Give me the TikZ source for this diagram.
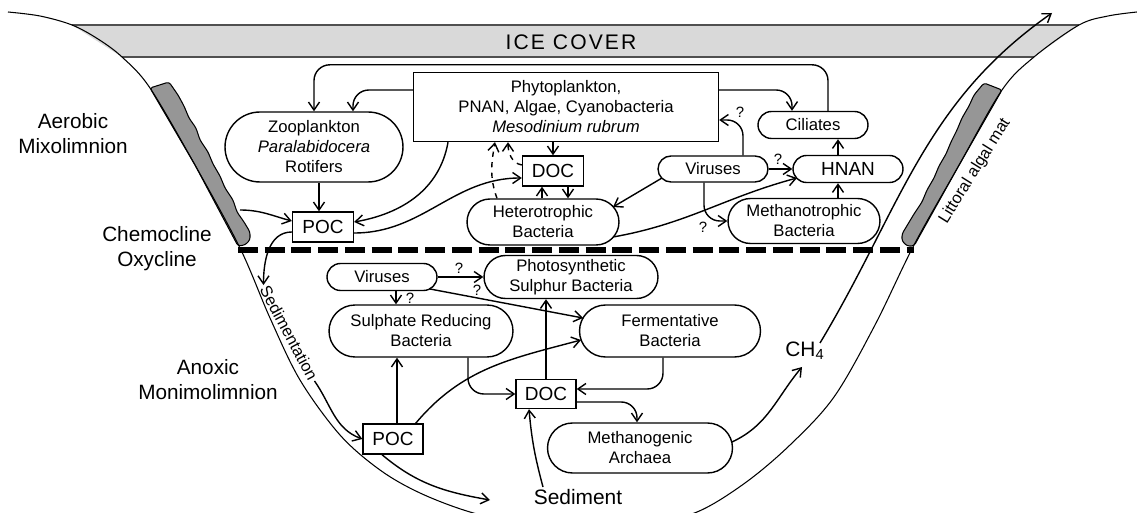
\documentclass[tikz,border=0pt]{standalone}
\usepackage{fontspec}
\setmainfont{Liberation Sans}
\newfontfamily\icefont[LetterSpace=10]{Liberation Sans}
\usetikzlibrary{arrows.meta}
\definecolor{icegray}{RGB}{217,217,217}
\definecolor{matgray}{RGB}{150,150,150}
\definecolor{rimgray}{RGB}{80,80,80}

\begin{document}
\begin{tikzpicture}[
    x=0.02cm, y=-0.02cm,
    org/.style 2 args={rectangle, draw, line width=0.8pt, align=center, inner sep=0pt, minimum width=#1, minimum height=#2, rounded corners=0.5*#2, font=\fontsize{9.5}{11.4}\selectfont},
    pool/.style={rectangle, draw, line width=0.8pt, inner sep=0pt, minimum width=1.22cm, minimum height=0.6cm, font=\fontsize{10.8}{13}\selectfont},
    zone/.style={align=center, font=\fontsize{11.8}{14.2}\selectfont},
    qm/.style={inner sep=1pt, font=\fontsize{8.5}{10}\selectfont},
    arr/.style={-{Straight Barb[length=1.6mm,width=2.2mm]}, line width=0.8pt},
    mat/.style={fill=matgray, draw, line width=0.6pt, rounded corners=1.5pt}
]
    \useasboundingbox (0,0) rectangle (1137,513);

    % Ice cover
    \fill[icegray] (72,25) -- (1079,25) -- (1034,57) -- (122,57) -- cycle;
    \draw[rimgray, line width=1pt] (72,25) -- (1079,25) (122,57) -- (1034,57);
    \node[font=\icefont\fontsize{12}{14}\selectfont] (ice) at (571,42) {ICE COVER};

    % Algal mats
    \draw[mat] (150,88) -- (169,82) -- (178,95) -- (184,106) -- (189,118) -- (196,128) -- (200,140) -- (208,152) -- (213,164) -- (220,176) -- (225,188) -- (233,200) -- (237,212) -- (244,222) -- (250,232) -- (250,240) -- (245,245) -- (238,246) -- (195,165) -- cycle;
    \draw[mat] (1002,90) -- (984,83) -- (974,95) -- (969,106) -- (962,118) -- (957,130) -- (951,142) -- (946,154) -- (939,166) -- (934,178) -- (927,190) -- (922,202) -- (914,214) -- (908,224) -- (902,234) -- (902,241) -- (907,246) -- (914,246) -- (958,167) -- cycle;

    % Lake basin
    \draw[line width=0.6pt] plot[smooth, tension=0.55] coordinates {(8,12) (40,16) (72,25) (98,39) (122,57) (150,88) (195,165) (240,248) (270,318) (300,380) (340,435) (380,470) (420,493) (470,512) (530,526) (590,529) (645,524) (697,512) (745,483) (790,445) (834,397) (875,325) (914,245) (958,167) (1002,90) (1034,57) (1079,25) (1108,16) (1137,12)};

    % Chemocline
    \draw[line width=3.2pt, dash pattern=on 0.4cm off 0.135cm] (238,250) -- (914,250);

    % Zones
    \node[zone] (aerobic) at (73,134) {Aerobic\\Mixolimnion};
    \node[zone] (chemo) at (157,249) {Chemocline\\Oxycline};
    \node[zone] (anoxic) at (208,380) {Anoxic\\Monimolimnion};
    \node[rotate=58, font=\fontsize{9.3}{11}\selectfont, inner sep=1pt] (littoral) at (975,171) {Littoral algal mat};
    \node[rotate=-62, font=\fontsize{9.3}{11}\selectfont, inner sep=1pt] (sedlbl) at (289,333) {Sedimentation};

    % Aerobic food web
    \node[rectangle, draw, line width=0.8pt, minimum width=6.1cm, minimum height=1.38cm, align=center, font=\fontsize{9.5}{11.4}\selectfont] (phyto) at (566,107) {Phytoplankton,\\PNAN, Algae, Cyanobacteria\\\textit{Mesodinium rubrum}};
    \node[org={3.56cm}{1.4cm}] (zoo) at (314,147) {Zooplankton\\\textit{Paralabidocera}\\Rotifers};
    \node[pool] (poca) at (323,227) {POC};
    \node[pool] (doca) at (553,171) {DOC};
    \node[org={3.04cm}{0.92cm}] (hetero) at (543,222) {Heterotrophic\\Bacteria};
    \node[org={2.2cm}{0.52cm}] (virusa) at (713,169) {Viruses};
    \node[org={2.2cm}{0.54cm}] (cil) at (813,125) {Ciliates};
    \node[org={2.2cm}{0.54cm}, font=\fontsize{10.8}{13}\selectfont] (hnan) at (848,169) {HNAN};
    \node[org={3.04cm}{0.9cm}] (mtroph) at (804,221) {Methanotrophic\\Bacteria};

    % Anoxic food web
    \node[org={2.2cm}{0.54cm}] (virusb) at (382,277) {Viruses};
    \node[org={3.48cm}{0.86cm}] (psb) at (571,277) {Photosynthetic\\Sulphur Bacteria};
    \node[org={3.68cm}{1.04cm}] (srb) at (421,331) {Sulphate Reducing\\Bacteria};
    \node[org={3.62cm}{1.04cm}] (ferm) at (670,331) {Fermentative\\Bacteria};
    \node[pool, minimum width=1.2cm, minimum height=0.58cm] (docb) at (546,394) {DOC};
    \node[pool, minimum width=1.2cm] (pocb) at (393,439) {POC};
    \node[org={3.7cm}{1.0cm}] (mgen) at (640,448) {Methanogenic\\Archaea};
    \node[font=\fontsize{11.9}{14}\selectfont, inner sep=1pt] (sed) at (578,497) {Sediment};
    \node[font=\fontsize{11.9}{14}\selectfont, inner sep=1pt] (ch4) at (805,351) {CH\textsubscript{4}};

    % Question marks
    \node[qm] (q1) at (740,112) {?};
    \node[qm] (q2) at (778,159) {?};
    \node[qm] (q3) at (703,227) {?};
    \node[qm] (q4) at (459,268) {?};
    \node[qm] (q5) at (477,290) {?};
    \node[qm] (q6) at (410,298) {?};

    % Free ends
    \coordinate (matpoc) at (240,210);
    \coordinate (sedflow) at (490,500);
    \coordinate (escape) at (1052,13);

    % Aerobic fluxes
    \draw[arr, rounded corners=9pt] ([xshift=0.3cm]cil.north) -- ++(0,-46) -| (zoo.north);
    \draw[arr, rounded corners=9pt] ([yshift=0.34cm]phyto.west) -| ([xshift=0.78cm]zoo.north);
    \draw[arr, rounded corners=9pt] ([yshift=0.34cm]phyto.east) -| ([xshift=-0.42cm]cil.north);
    \draw[arr] ([xshift=0.1cm]zoo.south) -- ([xshift=0.1cm]zoo.south |- poca.north);
    \draw[arr] (matpoc) to[out=0,in=165] ([yshift=0.12cm]poca.west);
    \draw[arr] ([xshift=-2.36cm]phyto.south) to[out=-100,in=10] ([yshift=0.1cm]poca.east);
    \draw[arr] ([yshift=-0.12cm]poca.east) to[out=0,in=180] ([yshift=-0.14cm]doca.west);
    \draw[arr, dashed] ([xshift=-0.92cm]hetero.north) to[out=110,in=-100] ([xshift=-1.42cm]phyto.south);
    \draw[arr, dashed] ([yshift=0.12cm]doca.west) to[out=170,in=-90] ([xshift=-1.16cm]phyto.south);
    \draw[arr] (doca.north |- phyto.south) -- (doca.north);
    \draw[arr] ([xshift=-0.22cm]doca.south |- hetero.north) -- ([xshift=-0.22cm]doca.south);
    \draw[arr] ([xshift=0.3cm]doca.south) -- ([xshift=0.3cm]doca.south |- hetero.north);
    \draw[arr] ([shift={(-51,9)}]virusa.center) -- ([shift={(70,-15)}]hetero.center);
    \draw[arr, rounded corners=9pt] ([xshift=0.6cm]virusa.north) |- ([yshift=-0.26cm]phyto.east);
    \draw[arr] (virusa.east) -- (hnan.west);
    \draw[arr] ([shift={(70,15)}]hetero.center) to[out=10,in=195] ([shift={(-51,9)}]hnan.center);
    \draw[arr, rounded corners=9pt] ([xshift=-0.18cm]virusa.south) |- (mtroph.west);
    \draw[arr] ([xshift=-0.2cm]hnan.south |- mtroph.north) -- ([xshift=-0.2cm]hnan.south);
    \draw[arr] ([xshift=-0.2cm]hnan.north) -- ([xshift=-0.2cm]hnan.north |- cil.south);

    % Anoxic fluxes
    \draw[arr] ([yshift=-0.1cm]poca.west) to[out=180,in=90] (sedlbl.west);
    \draw[arr] (sedlbl.east) to[out=-55,in=160] (pocb.west);
    \draw[arr] ([xshift=0.08cm]pocb.north) -- ([xshift=0.08cm]pocb.north |- srb.south);
    \draw[arr] ([xshift=-0.16cm]pocb.north east) to[out=50,in=195] ([shift={(-89,9)}]ferm.center);
    \draw[arr, rounded corners=9pt] ([xshift=0.94cm]srb.south) |- (docb.west);
    \draw[arr, rounded corners=9pt] ([xshift=-0.14cm]ferm.south) |- ([yshift=0.1cm]docb.east);
    \draw[arr] (docb.north) -- (docb.north |- psb.south);
    \draw[arr, rounded corners=9pt] ([yshift=-0.16cm]docb.east) -| ([xshift=-0.06cm]mgen.north);
    \draw[arr] ([shift={(-35,-10)}]sed.center) to[out=105,in=-85] ([xshift=-0.34cm]docb.south);
    \draw[arr] ([xshift=-0.22cm]pocb.south) to[out=-40,in=170] (sedflow);
    \draw[arr] ([shift={(92,-6)}]mgen.center) to[out=25,in=-130] ([shift={(-3,16)}]ch4.center);
    \draw[arr] ([shift={(15,-8)}]ch4.center) to[out=59,in=215] (escape);
    \draw[arr] (virusb.east) -- (psb.west);
    \draw[arr] ([xshift=0.28cm]virusb.south) -- ([xshift=0.28cm]virusb.south |- srb.north);
    \draw[arr] ([shift={(48,12)}]virusb.center) -- ([shift={(-87,-13)}]ferm.center);
\end{tikzpicture}
\end{document}
